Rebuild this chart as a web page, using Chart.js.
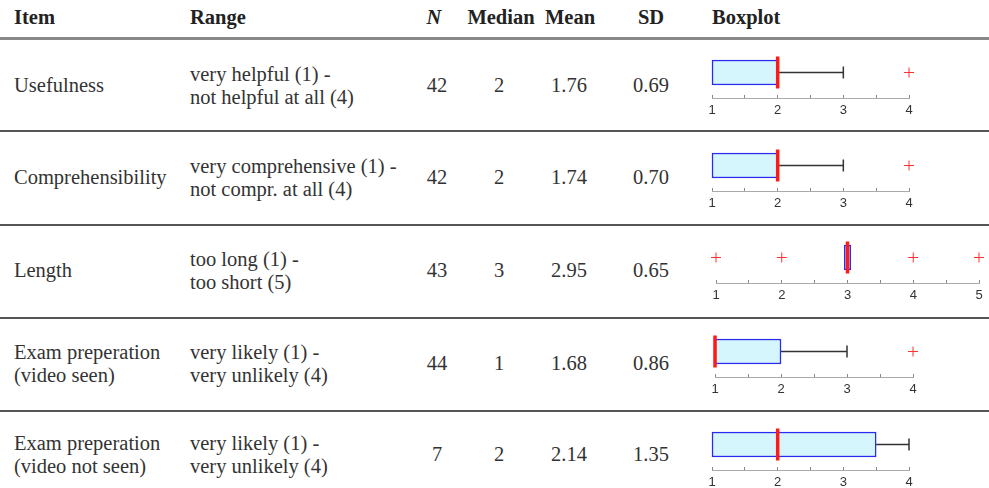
<!DOCTYPE html>
<html>
<head>
<meta charset="utf-8">
<script src="https://cdn.jsdelivr.net/npm/chart.js@4.4.1/dist/chart.umd.min.js"></script>
<style>
  html, body { margin: 0; padding: 0; background: #fff; }
  #page { position: relative; width: 989px; height: 488px; overflow: hidden;
          font-family: 'Liberation Serif', 'Times New Roman', serif; color: #333; }
  .cell { position: absolute; font-size: 20.5px; line-height: 23.5px; white-space: nowrap; }
  .head { position: absolute; font-size: 20.5px; line-height: 24px; font-weight: bold; color: #222; white-space: nowrap; }
  .num { text-align: center; width: 80px; }
  .rule { position: absolute; left: 0; width: 989px; background: #555; }
  canvas.box { position: absolute; }
</style>
</head>
<body>
<div id="page"></div>
<script>
const items = [['Usefulness'], ['Comprehensibility'], ['Length'],
  ['Exam preperation', '(video seen)'], ['Exam preperation', '(video not seen)']];
const ranges = [
  ['very helpful (1) -', 'not helpful at all (4)'],
  ['very comprehensive (1) -', 'not compr. at all (4)'],
  ['too long (1) -', 'too short (5)'],
  ['very likely (1) -', 'very unlikely (4)'],
  ['very likely (1) -', 'very unlikely (4)']
];
const nValues = [42, 42, 43, 44, 7];
const medians = [2, 2, 3, 1, 2];
const means = ['1.76', '1.74', '2.95', '1.68', '2.14'];
const sds = ['0.69', '0.70', '0.65', '0.86', '1.35'];

// boxplot values
const boxQ1 = [1, 1, 2.95, 1, 1];
const boxQ3 = [2, 2, 3.05, 2, 3.5];
const whiskerLow = [1, 1, 3, 1, 1];
const whiskerHigh = [3, 3, 3, 3, 4];
const outliers = [[4], [4], [1, 2, 4, 5], [4], []];
const axisMax = [4, 4, 5, 4, 4];

// layout of the table (pixels)
const rowMid = [86, 178, 271, 364, 455];   // text centre of each row
const boxMid = [72, 165, 257, 351, 444];   // centre of each boxplot
const rules = [131, 225, 318, 411];
const plotLeft = [712, 712, 716, 715, 712];
const plotRight = [909, 909, 979, 913, 909];

const page = document.getElementById('page');

function addDiv(cls, left, y, html) {
  const d = document.createElement('div');
  d.className = cls;
  d.style.left = left + 'px';
  d.style.top = y + 'px';
  d.innerHTML = html;
  page.appendChild(d);
  return d;
}

// header
addDiv('head', 14, 5, 'Item');
addDiv('head', 190, 5, 'Range');
addDiv('head num', 394, 5, '<i>N</i>');
addDiv('head num', 461, 5, 'Median');
addDiv('head num', 530, 5, 'Mean');
addDiv('head num', 611, 5, 'SD');
addDiv('head', 712, 5, 'Boxplot');

// rules
const headRule = document.createElement('div');
headRule.className = 'rule';
headRule.style.top = '37px'; headRule.style.height = '3px'; headRule.style.background = '#888';
page.appendChild(headRule);
rules.forEach(y => {
  const r = document.createElement('div');
  r.className = 'rule';
  r.style.top = (y - 1) + 'px'; r.style.height = '2px';
  page.appendChild(r);
});

// body cells
for (let i = 0; i < items.length; i++) {
  const half = 23.5 / 2;
  addDiv('cell', 14, rowMid[i] - items[i].length * half, items[i].join('<br>'));
  addDiv('cell', 190, rowMid[i] - ranges[i].length * half, ranges[i].join('<br>'));
  addDiv('cell num', 397, rowMid[i] - half, String(nValues[i]));
  addDiv('cell num', 459, rowMid[i] - half, String(medians[i]));
  addDiv('cell num', 529, rowMid[i] - half, means[i]);
  addDiv('cell num', 611, rowMid[i] - half, sds[i]);
}

// boxplots, one small chart per row
function drawBoxplot(i) {
  const cv = document.createElement('canvas');
  cv.className = 'box';
  cv.width = 289;
  cv.height = 85;
  cv.style.left = '700px';
  cv.style.top = (boxMid[i] - 33) + 'px';
  page.appendChild(cv);

  const datasets = [];
  datasets.push({
    type: 'scatter', order: 0, clip: false,
    data: [{ x: medians[i], y: 'box' }],
    pointStyle: 'line', rotation: 90, pointRadius: 16,
    pointBorderColor: '#ff1a1a', borderColor: '#ff1a1a', pointBorderWidth: 3.5
  });
  datasets.push({
    type: 'scatter', order: 1, clip: false,
    data: outliers[i].map(v => ({ x: v, y: 'box' })),
    pointStyle: 'cross', pointRadius: 5,
    pointBorderColor: '#ff3030', borderColor: '#ff3030', pointBorderWidth: 1
  });
  if (whiskerHigh[i] > boxQ3[i]) {
    datasets.push({
      type: 'line', order: 2, clip: false,
      data: [{ x: boxQ3[i], y: 'box' }, { x: whiskerHigh[i], y: 'box' }],
      borderColor: '#333', borderWidth: 1.5,
      pointStyle: 'line', rotation: 90, pointRadius: [0, 6],
      pointBorderColor: '#333', pointBorderWidth: 1.5
    });
  }
  if (whiskerLow[i] < boxQ1[i]) {
    datasets.push({
      type: 'line', order: 2, clip: false,
      data: [{ x: whiskerLow[i], y: 'box' }, { x: boxQ1[i], y: 'box' }],
      borderColor: '#333', borderWidth: 1.5,
      pointStyle: 'line', rotation: 90, pointRadius: [6, 0],
      pointBorderColor: '#333', pointBorderWidth: 1.5
    });
  }
  datasets.push({
    type: 'bar', order: 3, clip: false,
    data: [[boxQ1[i], boxQ3[i]]],
    backgroundColor: '#d6f6fe', borderColor: '#2a2af0', borderWidth: 1.5,
    borderSkipped: false, barThickness: 25
  });

  new Chart(cv, {
    type: 'bar',
    data: { labels: ['box'], datasets: datasets },
    options: {
      indexAxis: 'y',
      responsive: false,
      animation: false,
      events: [],
      layout: {
        autoPadding: false,
        padding: { left: plotLeft[i] - 700, right: 989 - plotRight[i], top: 8, bottom: 6 }
      },
      plugins: { legend: { display: false }, tooltip: { enabled: false } },
      scales: {
        y: { type: 'category', labels: ['box'], display: false, offset: true },
        x: {
          type: 'linear', min: 1, max: axisMax[i],
          afterFit: s => { s.height = 20; s.paddingLeft = 0; s.paddingRight = 0; },
          ticks: {
            stepSize: 0.5, padding: 8, color: '#333', autoSkip: false, maxRotation: 0,
            font: { family: 'Liberation Sans, Arial, sans-serif', size: 13 },
            callback: v => Number.isInteger(v) ? String(v) : ''
          },
          grid: { drawOnChartArea: false, tickLength: -3, color: '#888' },
          border: { display: true, color: '#aaa', width: 1 }
        }
      }
    }
  });
}

for (let i = 0; i < items.length; i++) drawBoxplot(i);
</script>
</body>
</html>
